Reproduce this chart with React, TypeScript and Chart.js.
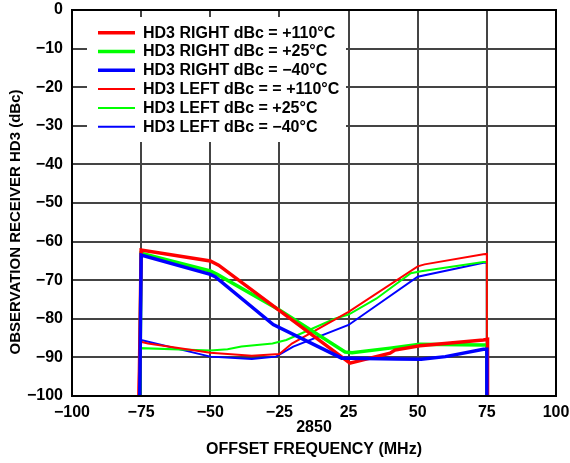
import React, { useEffect, useRef } from 'react';
import { Chart, registerables } from 'chart.js';

Chart.register(...registerables);

const FONT = '"Liberation Sans", Arial, Helvetica, sans-serif';

// x positions are in axis grid units: 0..7 correspond to the tick labels below
const xTickLabels = ['\u2212100', '\u221275', '\u221250', '\u221225', '25', '50', '75', '100'];
const xCenterLabel = '2850';
const xTitle = 'OFFSET FREQUENCY (MHz)';
const yTitle = 'OBSERVATION RECEIVER HD3 (dBc)';

const seriesNames = [
  'HD3 RIGHT dBc = +110\u00B0C',
  'HD3 RIGHT dBc = +25\u00B0C',
  'HD3 RIGHT dBc = \u221240\u00B0C',
  'HD3 LEFT dBc = = +110\u00B0C',
  'HD3 LEFT dBc = +25\u00B0C',
  'HD3 LEFT dBc = \u221240\u00B0C',
];
const seriesColors = ['#ff0000', '#00ff00', '#0000ff', '#ff0000', '#00ff00', '#0000ff'];
const seriesWidths = [3.5, 3.5, 3.5, 2, 2, 2];

const rightHotX = [0.97, 1.0, 2.0, 2.12, 4.02, 4.6, 4.67, 5.03, 5.95, 6.01, 6.01];
const rightHotY = [-100, -62.2, -65.0, -66.1, -91.5, -88.9, -88.1, -87.0, -85.5, -85.3, -100];

const rightRoomX = [0.98, 1.0, 2.0, 2.1, 3.0, 3.95, 4.05, 4.6, 5.03, 5.95, 6.0, 6.0];
const rightRoomY = [-100, -63.0, -67.6, -68.5, -77.7, -88.6, -88.8, -87.6, -86.6, -86.8, -86.8, -100];

const rightColdX = [0.98, 1.0, 2.0, 2.07, 2.91, 3.9, 4.0, 4.7, 5.05, 5.4, 5.95, 6.0, 6.0];
const rightColdY = [-100, -63.5, -68.5, -69.1, -81.5, -90.2, -90.2, -90.4, -90.5, -89.8, -87.9, -87.9, -100];

const leftHotX = [0.96, 0.98, 1.1, 2.0, 2.6, 3.0, 3.18, 4.0, 5.0, 5.1, 5.95, 6.0, 6.0];
const leftHotY = [-100, -85.9, -86.4, -88.8, -89.6, -89.1, -86.4, -78.2, -66.4, -65.9, -63.3, -63.2, -100];

const leftRoomX = [0.97, 0.99, 2.0, 2.25, 2.45, 2.9, 3.1, 3.8, 4.0, 4.4, 4.9, 5.05, 5.95, 6.0, 6.0];
const leftRoomY = [-100, -87.6, -88.2, -87.9, -87.2, -86.4, -85.5, -80.0, -78.9, -74.8, -68.2, -67.7, -65.3, -65.3, -100];

const leftColdX = [0.98, 1.0, 2.0, 2.6, 2.95, 3.2, 4.0, 5.0, 5.95, 6.0, 6.0];
const leftColdY = [-100, -85.5, -89.8, -90.4, -89.8, -87.2, -81.6, -69.1, -65.5, -65.5, -100];

const seriesX = [rightHotX, rightRoomX, rightColdX, leftHotX, leftRoomX, leftColdX];
const seriesY = [rightHotY, rightRoomY, rightColdY, leftHotY, leftRoomY, leftColdY];

const zip = (xs: number[], ys: number[]) => xs.map((x, i) => ({ x, y: ys[i] }));

const framePlugin = {
  id: 'frameAndLegend',
  afterDraw(chart: any) {
    const { ctx, chartArea: ca } = chart;
    ctx.save();
    // frame
    ctx.strokeStyle = '#000';
    ctx.lineWidth = 2;
    ctx.strokeRect(ca.left, ca.top, ca.right - ca.left, ca.bottom - ca.top);
    // legend box
    const bx = ca.left + 15;
    const by = ca.top + 7;
    ctx.fillStyle = '#ffffff';
    ctx.fillRect(bx, by, 259, 125);
    ctx.font = `bold 16px ${FONT}`;
    ctx.textBaseline = 'middle';
    ctx.textAlign = 'left';
    seriesNames.forEach((name, i) => {
      const y = ca.top + 22.7 + i * 18.8;
      ctx.strokeStyle = seriesColors[i];
      ctx.lineWidth = seriesWidths[i];
      ctx.beginPath();
      ctx.moveTo(ca.left + 26, y);
      ctx.lineTo(ca.left + 63, y);
      ctx.stroke();
      ctx.fillStyle = '#000';
      ctx.fillText(name, ca.left + 71, y + 0.5);
    });
    // y-axis title
    ctx.font = `bold 15px ${FONT}`;
    ctx.translate(16, (ca.top + ca.bottom) / 2 + 19);
    ctx.rotate(-Math.PI / 2);
    ctx.textAlign = 'center';
    ctx.fillStyle = '#000';
    ctx.fillText(yTitle, 0, 0);
    ctx.restore();
  },
};

export default function App() {
  const ref = useRef<HTMLCanvasElement | null>(null);

  useEffect(() => {
    if (!ref.current) return;
    const tickFont = { family: FONT, size: 16, weight: 'bold' as const };
    const chart = new Chart(ref.current, {
      type: 'line',
      data: {
        datasets: seriesNames.map((name, i) => ({
          label: name,
          data: zip(seriesX[i], seriesY[i]),
          borderColor: seriesColors[i],
          backgroundColor: seriesColors[i],
          borderWidth: seriesWidths[i],
          pointRadius: 0,
          tension: 0,
          fill: false,
          order: i === 2 ? -1 : i,
        })),
      },
      options: {
        animation: false,
        responsive: false,
        devicePixelRatio: 1,
        layout: { padding: { left: 0, top: 10, right: 14, bottom: 0 } },
        plugins: { legend: { display: false }, tooltip: { enabled: false } },
        scales: {
          x: {
            type: 'linear',
            min: 0,
            max: 7,
            afterFit: (s: any) => {
              s.height = 67;
              s.paddingLeft = 0;
              s.paddingRight = 0;
              s.paddingTop = 0;
              s.paddingBottom = 0;
            },
            ticks: {
              stepSize: 1,
              autoSkip: false,
              maxRotation: 0,
              padding: 7,
              color: '#000',
              font: tickFont,
              callback: (v: any) => xTickLabels[Math.round(Number(v))] ?? '',
            },
            grid: { color: '#444', lineWidth: 2, drawTicks: false },
            border: { display: false },
            title: {
              display: true,
              text: [xCenterLabel, xTitle],
              color: '#000',
              font: { family: FONT, size: 16, weight: 'bold', lineHeight: 1.375 },
              padding: { top: 0, bottom: 2 },
            },
          },
          y: {
            type: 'linear',
            min: -100,
            max: 0,
            afterFit: (s: any) => {
              s.width = 72;
              s.paddingLeft = 0;
              s.paddingRight = 0;
              s.paddingTop = 0;
              s.paddingBottom = 0;
            },
            ticks: {
              stepSize: 10,
              padding: 9,
              color: '#000',
              font: tickFont,
              callback: (v: any) => (Number(v) === 0 ? '0' : '\u2212' + Math.abs(Number(v))),
            },
            grid: { color: '#444', lineWidth: 2, drawTicks: false },
            border: { display: false },
          },
        },
      },
      plugins: [framePlugin],
    });
    return () => chart.destroy();
  }, []);

  return (
    <div style={{ position: 'fixed', left: 0, top: 0, width: 570, height: 463, background: '#fff' }}>
      <canvas ref={ref} width={570} height={463} style={{ display: 'block' }} />
    </div>
  );
}
